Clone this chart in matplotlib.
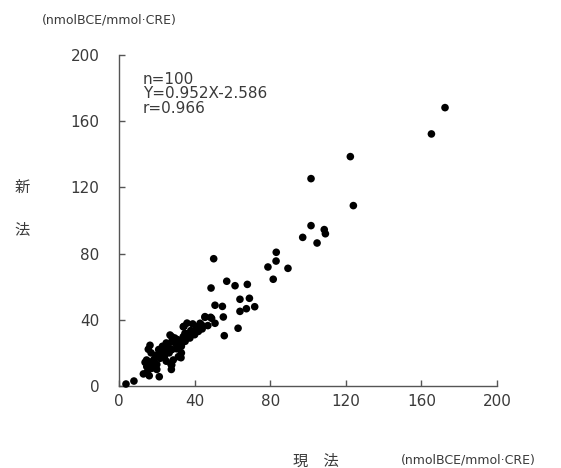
import matplotlib
matplotlib.use("Agg")
import matplotlib.pyplot as plt

plt.rcParams['font.family'] = ['DejaVu Sans', 'Noto Sans CJK JP']

# 現法 (x) vs 新法 (y), nmolBCE/mmol·CRE
x_vals = [172.5, 165.3, 122.4, 101.6, 124.0, 101.6, 108.6, 109.2, 97.2, 104.8,
          83.2, 83.1, 78.8, 89.4, 81.6, 50.1, 48.7, 57.0, 61.4, 67.9,
          64.0, 69.0, 50.8, 54.7, 71.8, 64.0, 67.4, 55.2, 63.0, 55.7,
          3.7, 7.9, 12.9, 16.0, 21.3, 16.4, 13.8, 14.7, 17.3, 27.7,
          27.5, 32.8, 34.4, 15.5, 14.6, 16.5, 18.5, 21.7, 24.0, 24.3,
          26.1, 27.9, 27.0, 29.5, 31.0, 30.0, 32.5, 34.0, 34.9, 36.5,
          38.0, 41.1, 42.9, 45.5, 48.5, 50.8, 47.0, 28.7, 31.4, 27.9,
          26.5, 22.5, 20.0, 18.0, 15.0, 19.5, 21.0, 23.0, 25.0, 28.0,
          30.5, 33.0, 35.0, 37.5, 40.0, 42.0, 44.0, 39.0, 36.0, 43.7,
          41.1, 38.5, 34.0, 27.9, 45.5, 49.0, 33.0, 25.0, 20.0, 17.0]
y_vals = [168.2, 152.3, 138.6, 125.3, 109.0, 96.9, 94.5, 92.0, 89.8, 86.4,
          80.8, 75.5, 71.9, 71.1, 64.5, 76.9, 59.2, 63.3, 60.6, 61.4,
          52.4, 53.0, 48.8, 48.1, 47.9, 45.1, 46.7, 41.7, 34.9, 30.4,
          1.2, 3.0, 7.3, 6.2, 5.6, 24.6, 14.3, 11.7, 10.7, 10.0,
          13.1, 17.1, 36.1, 22.2, 15.7, 14.5, 16.0, 16.7, 17.5, 20.7,
          23.7, 26.8, 30.8, 29.0, 28.0, 25.5, 26.5, 35.8, 31.8, 31.5,
          33.5, 35.8, 37.9, 41.9, 41.5, 37.9, 36.5, 15.7, 17.7, 12.7,
          20.0, 20.0, 13.0, 12.5, 8.5, 18.5, 22.0, 24.0, 26.0, 22.0,
          22.5, 24.0, 27.0, 29.0, 31.0, 33.0, 34.5, 37.5, 38.0, 36.9,
          34.9, 31.8, 29.8, 29.8, 41.5, 40.9, 20.0, 15.0, 10.0, 20.0]
ticks = [0, 40, 80, 120, 160, 200]
stats_lines = ["n=100", "Y=0.952X-2.586", "r=0.966"]
unit_label = "(nmolBCE/mmol·CRE)"

W, H = 561, 468
fig = plt.figure(figsize=(W / 100, H / 100), dpi=100)
ax = fig.add_axes([119 / W, 1 - 386 / H, (497 - 119) / W, (386 - 55) / H])

ax.scatter(x_vals, y_vals, s=30, c='black', edgecolors='none', zorder=3, clip_on=False)

ax.set_xlim(0, 200)
ax.set_ylim(0, 200)
ax.set_xticks(ticks)
ax.set_yticks(ticks)
ax.set_xticklabels([str(t) for t in ticks])
ax.set_yticklabels([str(t) for t in ticks])
for s in ['top', 'right']:
    ax.spines[s].set_visible(False)
for s in ['left', 'bottom']:
    ax.spines[s].set_color('#555555')
    ax.spines[s].set_linewidth(1.0)
ax.tick_params(direction='in', length=4, width=1.0, colors='#555555',
               labelcolor='#3a3a3a', labelsize=11)
ax.tick_params(axis='x', pad=6)
ax.tick_params(axis='y', pad=14)

tc = '#3a3a3a'
for i, line in enumerate(stats_lines):
    fig.text(143 / W, 1 - (80 + 14 * i) / H, line, fontsize=11, color=tc,
             ha='left', va='center')

fig.text(42 / W, 1 - 20 / H, unit_label, fontsize=9, color=tc, ha='left', va='center')
fig.text(401 / W, 1 - 460 / H, unit_label, fontsize=9, color=tc, ha='left', va='center')
fig.text(22 / W, 1 - 187 / H, "新", fontsize=11, color=tc, ha='center', va='center')
fig.text(22 / W, 1 - 230 / H, "法", fontsize=11, color=tc, ha='center', va='center')
fig.text(316 / W, 1 - 461 / H, "現　法", fontsize=11, color=tc, ha='center', va='center')

fig.savefig("out.png", dpi=100)
